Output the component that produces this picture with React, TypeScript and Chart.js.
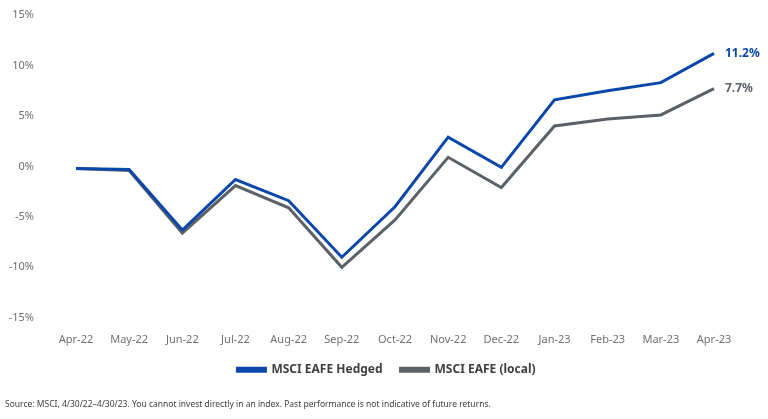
import React, { useEffect, useRef } from "react";
import { Chart, registerables } from "chart.js";

Chart.register(...registerables);

const categories = ["Apr-22", "May-22", "Jun-22", "Jul-22", "Aug-22", "Sep-22", "Oct-22", "Nov-22", "Dec-22", "Jan-23", "Feb-23", "Mar-23", "Apr-23"];
const hedgedValues = [-0.2, -0.3, -6.3, -1.3, -3.4, -9.0, -4.0, 2.9, -0.1, 6.6, 7.5, 8.3, 11.2];
const localValues = [-0.2, -0.4, -6.6, -1.9, -4.1, -10.0, -5.3, 0.9, -2.1, 4.0, 4.7, 5.1, 7.7];
const seriesNames = ["MSCI EAFE Hedged", "MSCI EAFE (local)"];
const endLabels = ["11.2%", "7.7%"];
const sourceText = "Source: MSCI, 4/30/22\u20134/30/23. You cannot invest directly in an index. Past performance is not indicative of future returns.";

const BLUE = "#0b47ab";
const GREY = "#5c6168";
const FONT = "'Noto Sans', sans-serif";

const endLabelPlugin = {
  id: "endLabels",
  afterDatasetsDraw(chart: any) {
    const ctx = chart.ctx;
    chart.data.datasets.forEach((ds: any, i: number) => {
      const meta = chart.getDatasetMeta(i);
      const pt = meta.data[meta.data.length - 1];
      if (!pt) return;
      ctx.save();
      ctx.font = `bold 12px ${FONT}`;
      ctx.fillStyle = ds.borderColor;
      ctx.textAlign = "left";
      ctx.textBaseline = "middle";
      ctx.fillText(endLabels[i], pt.x + 11, pt.y);
      ctx.restore();
    });
  },
};

export default function App() {
  const ref = useRef<HTMLCanvasElement | null>(null);
  useEffect(() => {
    document.body.style.margin = "0";
    if (!ref.current) return;
    const chart = new Chart(ref.current, {
      type: "line",
      data: {
        labels: categories,
        datasets: [
          { label: seriesNames[0], data: hedgedValues, borderColor: BLUE, backgroundColor: BLUE, borderWidth: 3, pointRadius: 0, tension: 0 },
          { label: seriesNames[1], data: localValues, borderColor: GREY, backgroundColor: GREY, borderWidth: 3, pointRadius: 0, tension: 0 },
        ],
      },
      plugins: [endLabelPlugin],
      options: {
        animation: false,
        responsive: false,
        layout: { padding: { top: 15, right: 0, left: 5, bottom: 0 } },
        scales: {
          x: {
            offset: false,
            grid: { display: false, drawTicks: false },
            border: { display: false },
            ticks: { color: "#707070", font: { family: FONT, size: 11 }, padding: 15, maxRotation: 0, autoSkip: false },
            afterFit: (s: any) => { s.height = 28; },
          },
          y: {
            min: -15,
            max: 15,
            grid: { display: false, drawTicks: false },
            border: { display: false },
            ticks: { stepSize: 5, color: "#707070", font: { family: FONT, size: 11 }, padding: 42, callback: (v: any) => `${v}%` },
            afterFit: (s: any) => { s.width = 71; s.paddingTop = 0; s.paddingBottom = 0; },
          },
          yr: {
            position: "right",
            min: -15,
            max: 15,
            grid: { display: false, drawTicks: false },
            border: { display: false },
            ticks: { display: false },
            afterFit: (s: any) => { s.width = 54; s.paddingTop = 0; s.paddingBottom = 0; },
          },
        },
        plugins: {
          legend: {
            position: "bottom",
            labels: {
              boxWidth: 28,
              boxHeight: 3,
              color: "#404040",
              font: { family: FONT, size: 12, weight: "bold" },
              padding: 18,
            },
          },
          subtitle: {
            display: true,
            text: sourceText,
            position: "bottom",
            align: "start",
            color: "#404040",
            font: { family: FONT, size: 8.5 },
            padding: { top: 14, bottom: 9 },
          },
          tooltip: { enabled: false },
        },
      },
    });
    return () => chart.destroy();
  }, []);
  return (
    <div style={{ width: 768, height: 419 }}>
      <canvas ref={ref} width={768} height={419} style={{ display: "block" }} />
    </div>
  );
}
